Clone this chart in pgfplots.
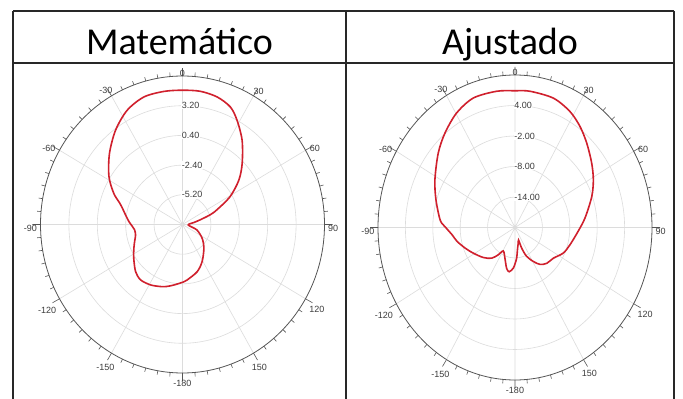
\documentclass[border=0pt]{standalone}
\usepackage{pgfplots}
\pgfplotsset{compat=1.18}
\usepgfplotslibrary{polar}
\usepackage{fontspec}
\setmainfont{Carlito}
\newfontfamily\lab{Liberation Sans}
\definecolor{curve}{RGB}{208,32,45}
\definecolor{gridc}{RGB}{220,220,220}
\definecolor{axc}{RGB}{85,85,85}
\definecolor{labc}{RGB}{60,60,60}
\definecolor{tabc}{RGB}{40,40,40}

\pgfplotsset{
  antenna/.style={
    scale only axis, scale mode=stretch to fill,
    xmin=0, xmax=360,
    xtick={0,30,...,330},
    xticklabels={90,60,30,0,-30,-60,-90,-120,-150,-180,150,120},
    minor x tick num=5,
    yticklabels={},
    xmajorgrids, ymajorgrids,
    major grid style={gridc, line width=0.6pt},
    axis line style={axc, line width=0.8pt},
    y axis line style={draw=none},
    tick align=inside,
    major tick length=8pt, minor tick length=4pt,
    tick style={axc, line width=0.6pt},
    ytick style={draw=none},
    x filter/.expression={90-x},
  },
}
\tikzset{
  rlab/.style={anchor=west, fill=white, inner sep=0.6pt, xshift=-1.5pt,
    font=\lab\fontsize{9}{9}\selectfont, text=labc},
}

\begin{document}
\begin{tikzpicture}
\fill[white] (0,0) rectangle (683pt,399pt);

% ---------- Matemático ----------
\begin{polaraxis}[antenna,
  at={(182.5pt,174.5pt)}, anchor=center,
  width=284pt, height=297pt,
  ymin=0, ymax=14,
  ytick={2.8,5.6,8.4,11.2},
  y filter/.expression={y+8},
  every x tick label/.append style={font=\lab\fontsize{9}{9}\selectfont, text=labc, inner sep=3.5pt, yshift=-4pt},
]
\addplot[curve, line width=1.6pt, smooth, tension=0.5] table {
-180 -2.55
-171.5 -2.23
-165 -1.95
-159.6 -1.76
-151 -1.49
-141.6 -1.34
-133.8 -1.59
-123.6 -2.23
-115 -2.71
-108 -3.05
-102 -3.27
-96 -3.25
-92 -3.05
-87 -2.71
-81 -2.32
-76.8 -2.0
-72 -1.5
-66.6 -0.62
-58.1 0.54
-47.1 1.83
-36.6 3.07
-26.9 4.07
-17.6 4.61
-8.3 4.68
0 4.66
8 4.68
15.9 4.5
23.1 4.04
28.7 3.2
36.5 1.88
45.7 0.22
53.1 -1.06
60.8 -2.64
67.9 -4.36
71.5 -5.14
75.9 -6.22
80.3 -6.84
94 -7.43
109.8 -6.5
124 -5.66
136.8 -4.92
151.1 -4.0
162 -3.32
175 -2.75
180 -2.55
};
\node[rlab] at (axis cs:90,11.2) {3.20};
\node[rlab] at (axis cs:90,8.4) {0.40};
\node[rlab] at (axis cs:90,5.6) {-2.40};
\node[rlab] at (axis cs:90,2.8) {-5.20};
\end{polaraxis}

% ---------- Ajustado ----------
\begin{polaraxis}[antenna,
  at={(515pt,171.5pt)}, anchor=center,
  width=274pt, height=305pt,
  ymin=0, ymax=30,
  ytick={6,12,18,24},
  y filter/.expression={y+20},
  every x tick label/.append style={font=\lab\fontsize{9}{9}\selectfont, text=labc, inner sep=3.5pt, yshift=-4pt},
]
\addplot[curve, line width=1.6pt, smooth, tension=0.5] table {
-180 -12.84
-177.4 -12.0
-171.8 -11.2
-167.2 -11.75
-160 -13.55
-151 -14.72
-145.7 -13.5
-139.8 -12.1
-130.5 -10.9
-118.9 -9.56
-110 -8.3
-102 -7.0
-96.2 -6.2
-89.4 -4.67
-84.9 -3.55
-72.5 -1.85
-61.8 -0.1
-48.9 2.3
-39.5 4.1
-29.6 5.9
-19.7 7.06
-8.5 7.1
0 6.9
7 7.0
18.3 6.8
27.8 5.8
35.6 4.45
43.4 2.86
53 1.03
61.3 -0.44
70 -2.1
82.7 -4.5
92.7 -6.1
105.9 -7.5
115.5 -8.3
125.7 -9.65
135.4 -10.1
142.9 -10.9
149 -12.2
155.9 -13.8
160.2 -15.7
162.5 -17.4
167.9 -16.7
172 -15.9
176.6 -13.94
180 -12.84
};
\node[rlab] at (axis cs:90,24) {4.00};
\node[rlab] at (axis cs:90,18) {-2.00};
\node[rlab] at (axis cs:90,12) {-8.00};
\node[rlab] at (axis cs:90,6) {-14.00};
\end{polaraxis}

% ---------- table ----------
\draw[tabc, line width=1.2pt] (13pt,388pt) -- (674pt,388pt);
\draw[tabc, line width=1.2pt] (13pt,388pt) -- (13pt,0pt);
\draw[tabc, line width=1.2pt] (346pt,388pt) -- (346pt,0pt);
\draw[tabc, line width=1.2pt] (674pt,388pt) -- (674pt,0pt);
\draw[tabc, line width=1.2pt] (13pt,336pt) -- (674pt,336pt);
\node[anchor=base, font=\fontsize{38}{38}\selectfont, inner sep=0pt] at (179.5pt,344pt) {Matemático};
\node[anchor=base, font=\fontsize{38}{38}\selectfont, inner sep=0pt] at (510pt,344pt) {Ajustado};

\pgfresetboundingbox
\path (0,0) rectangle (683pt,399pt);
\end{tikzpicture}
\end{document}
